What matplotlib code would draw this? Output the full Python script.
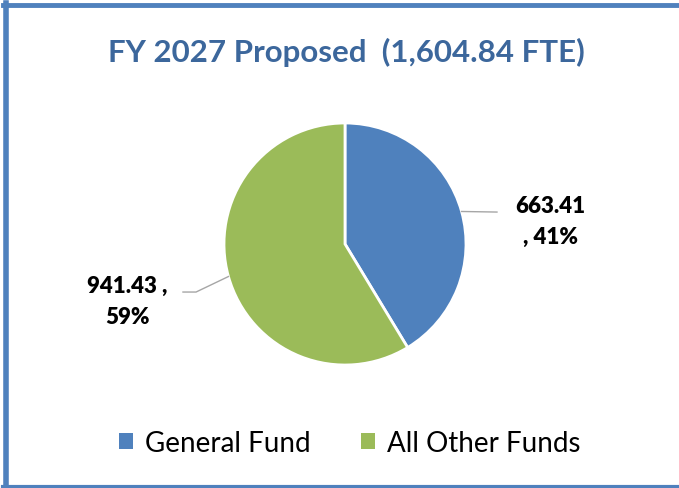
import matplotlib
matplotlib.use("Agg")
import matplotlib.pyplot as plt
import numpy as np
from matplotlib.lines import Line2D
from matplotlib.patches import Patch

categories = ["General Fund", "All Other Funds"]
values = [663.41, 941.43]
pct_labels = ["41%", "59%"]
colors = ["#4F81BD", "#9BBB59"]
title = "FY 2027 Proposed  (1,604.84 FTE)"

plt.rcParams['font.family'] = ['Lato', 'DejaVu Sans']

fig = plt.figure(figsize=(6.79, 4.89), dpi=100)
fig.patch.set_facecolor("white")

# border lines (top, left, bottom)
border_c = "#4F81BD"
fig.add_artist(Line2D([0.004, 1.0], [1 - 6/489, 1 - 6/489], transform=fig.transFigure, color=border_c, lw=3.5))
fig.add_artist(Line2D([5.5/679, 5.5/679], [1.5/489, 1 - 4/489], transform=fig.transFigure, color=border_c, lw=4))
fig.add_artist(Line2D([0.004, 1.0], [1.5/489, 1.5/489], transform=fig.transFigure, color=border_c, lw=3))

fig.text(346/679, 1 - 52/489, title, ha="center", va="center", fontsize=22.5,
         fontweight="bold", color="#3C679C")

ax = fig.add_axes([(345-121)/679, (244-121)/489, 242/679, 242/489])
wedges, _ = ax.pie(values, colors=colors, startangle=90, counterclock=False,
                   wedgeprops=dict(edgecolor="white", linewidth=2))
ax.set_xlim(-1, 1)
ax.set_ylim(-1, 1)
ax.set_aspect("equal")
ax.axis("off")

# labels with leader lines
texts = [f"{values[0]:.2f}\n, {pct_labels[0]}", f"{values[1]:.2f} ,\n{pct_labels[1]}"]
label_pos = [(1.70, 0.19), (-1.80, -0.47)]
line_pts = [[(1.256, 0.264)], [(-1.231, -0.397), (-1.339, -0.397)]]
for w, t, lp, pts in zip(wedges, texts, label_pos, line_pts):
    ang = np.deg2rad((w.theta1 + w.theta2) / 2)
    start = (np.cos(ang), np.sin(ang))
    xs = [start[0]] + [p[0] for p in pts]
    ys = [start[1]] + [p[1] for p in pts]
    ax.plot(xs, ys, color="#A6A6A6", lw=1, clip_on=False)
    ax.text(lp[0], lp[1], t, ha="center", va="center", fontsize=16, fontweight="heavy",
            color="black", linespacing=1.55, clip_on=False)

handles = [Patch(facecolor=c, edgecolor="none") for c in colors]
fig.legend(handles, categories, loc="center", bbox_to_anchor=(350/679, 1 - 444/489),
           ncol=2, frameon=False, fontsize=20, handlelength=0.5, handleheight=0.5,
           handletextpad=0.45, columnspacing=1.8)

fig.savefig("out.png", dpi=100)
